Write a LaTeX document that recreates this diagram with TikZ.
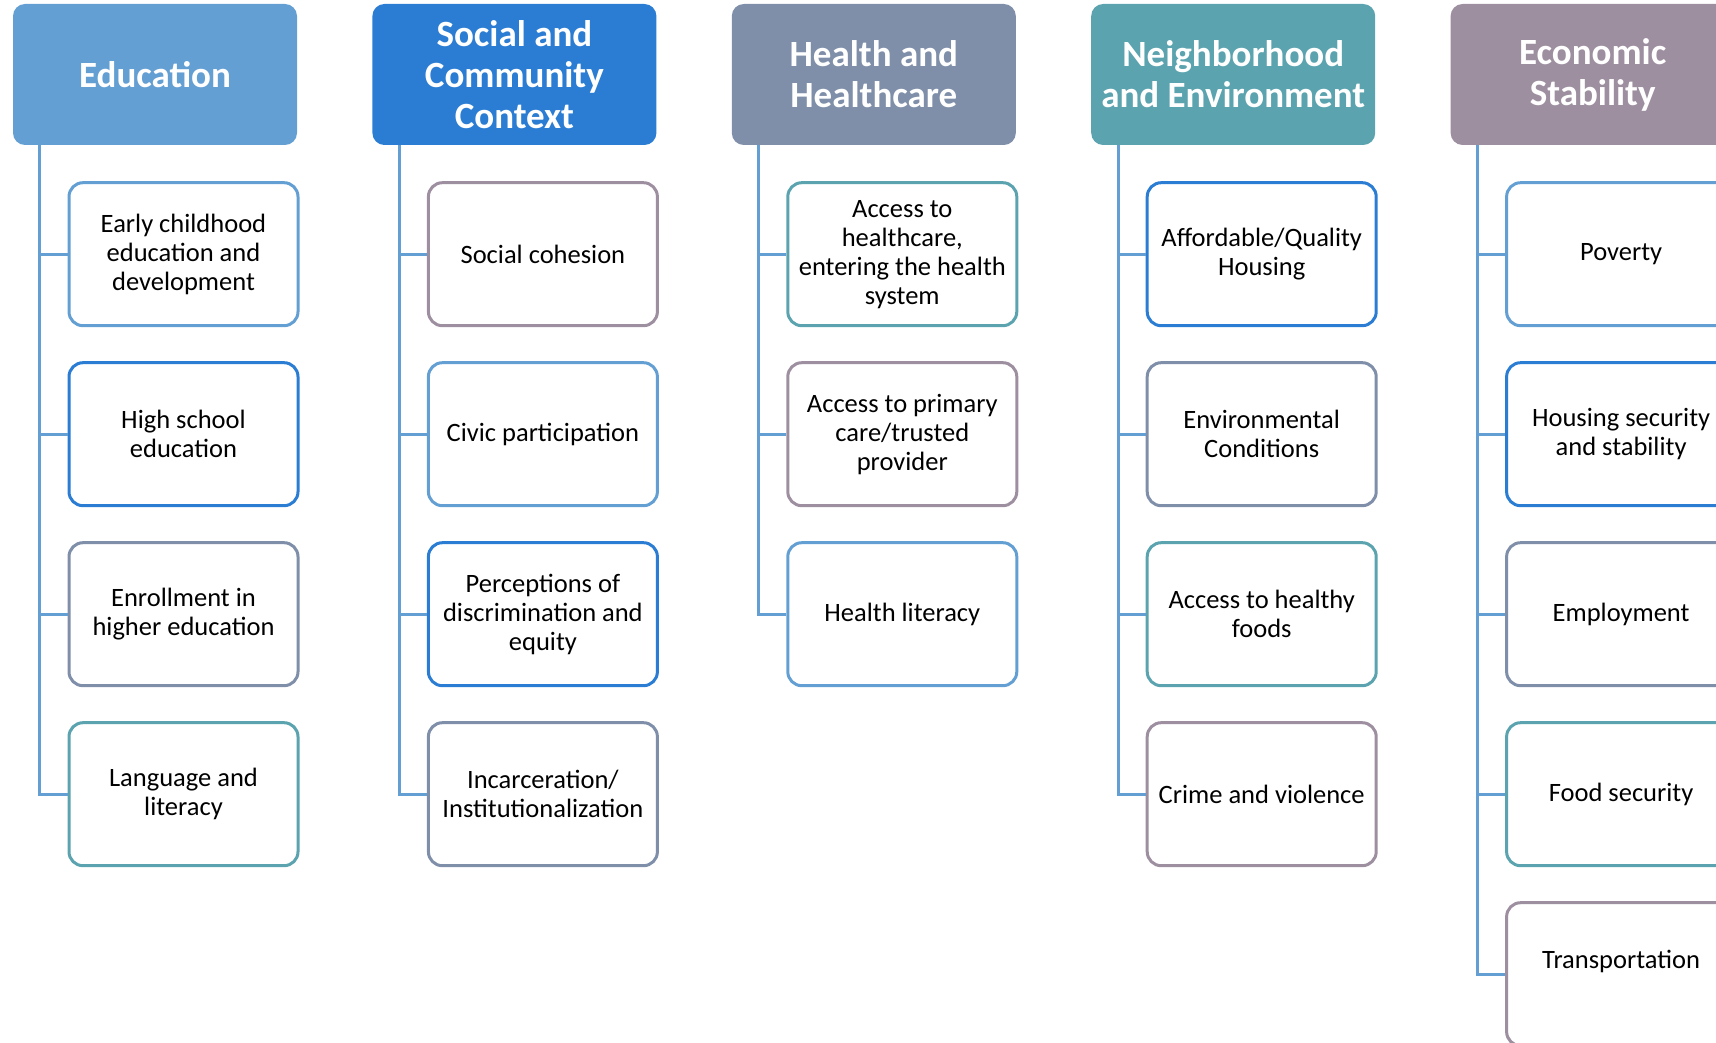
\documentclass[tikz,border=0pt]{standalone}
\usepackage{fontspec}
\setmainfont{Carlito}
\usetikzlibrary
  {
    positioning,              % place nodes relative to other nodes
    calc,
  }

\definecolor{paleblue}{RGB}{100,159,211}
\definecolor{brightblue}{RGB}{43,125,211}
\definecolor{slateblue}{RGB}{127,143,169}
\definecolor{seagreen}{RGB}{91,163,175}
\definecolor{mauve}{RGB}{158,143,160}

\begin{document}
\begin{tikzpicture}
    [
      x=1pt, y=1pt,
      node distance=34pt,
      header/.style=
        {
          rectangle,
          rounded corners=12pt,
          minimum width=284pt,
          minimum height=141pt,
          align=center,
          text=white,
          font=\fontsize{37}{41}\selectfont\bfseries,
        },
      item/.style=
        {
          rectangle,
          rounded corners=14pt,
          line width=3pt,
          fill=white,
          minimum width=229pt,
          minimum height=143pt,
          align=center,
          font=\fontsize{26.5}{29}\selectfont,
        },
      link/.style=
        {
          draw=paleblue,
          line width=3pt,
        }
    ]
    \useasboundingbox (0,0) rectangle (1716,-1043);
    \clip (0,0) rectangle (1716,-1043);

    % column heads
    \node (edu) [header, fill=paleblue] at (155,-74.5) {Education};
    \node (soc) [header, fill=brightblue, right=75pt of edu] {Social and\\Community\\Context};
    \node (hlt) [header, fill=slateblue, right=75pt of soc] {Health and\\Healthcare};
    \node (nbh) [header, fill=seagreen, right=75pt of hlt] {Neighborhood\\and Environment};
    \node (eco) [header, fill=mauve, right=75pt of nbh] {Economic\\Stability};

    % Education
    \node (edu1) [item, draw=paleblue, below=36pt of edu, xshift=28.5pt] {Early childhood\\education and\\development};
    \node (edu2) [item, draw=brightblue, below=of edu1] {High school\\education};
    \node (edu3) [item, draw=slateblue, below=of edu2] {Enrollment in\\higher education};
    \node (edu4) [item, draw=seagreen, below=of edu3] {Language and\\literacy};

    % Social and Community Context
    \node (soc1) [item, draw=mauve, below=36pt of soc, xshift=28.5pt] {Social cohesion};
    \node (soc2) [item, draw=paleblue, below=of soc1] {Civic participation};
    \node (soc3) [item, draw=brightblue, below=of soc2] {Perceptions of\\discrimination and\\equity};
    \node (soc4) [item, draw=slateblue, below=of soc3] {Incarceration/\\Institutionalization};

    % Health and Healthcare
    \node (hlt1) [item, draw=seagreen, below=36pt of hlt, xshift=28.5pt] {Access to\\healthcare,\\entering the health\\system};
    \node (hlt2) [item, draw=mauve, below=of hlt1] {Access to primary\\care/trusted\\provider};
    \node (hlt3) [item, draw=paleblue, below=of hlt2] {Health literacy};

    % Neighborhood and Environment
    \node (nbh1) [item, draw=brightblue, below=36pt of nbh, xshift=28.5pt] {Affordable/Quality\\Housing};
    \node (nbh2) [item, draw=slateblue, below=of nbh1] {Environmental\\Conditions};
    \node (nbh3) [item, draw=seagreen, below=of nbh2] {Access to healthy\\foods};
    \node (nbh4) [item, draw=mauve, below=of nbh3] {Crime and violence};

    % Economic Stability
    \node (eco1) [item, draw=paleblue, below=36pt of eco, xshift=28.5pt] {Poverty};
    \node (eco2) [item, draw=brightblue, below=of eco1] {Housing security\\and stability};
    \node (eco3) [item, draw=slateblue, below=of eco2] {Employment};
    \node (eco4) [item, draw=seagreen, below=of eco3] {Food security};
    \node (eco5) [item, draw=mauve, below=of eco4] {Transportation\\ \mbox{}};

    % trunks and branches
    \coordinate (eduT) at ($(edu.south west)+(27,0)$);
    \coordinate (socT) at ($(soc.south west)+(27,0)$);
    \coordinate (hltT) at ($(hlt.south west)+(27,0)$);
    \coordinate (nbhT) at ($(nbh.south west)+(27,0)$);
    \coordinate (ecoT) at ($(eco.south west)+(27,0)$);

    \draw [link] (eduT) |- (edu1.west) (eduT) |- (edu2.west)
                 (eduT) |- (edu3.west) (eduT) |- (edu4.west);
    \draw [link] (socT) |- (soc1.west) (socT) |- (soc2.west)
                 (socT) |- (soc3.west) (socT) |- (soc4.west);
    \draw [link] (hltT) |- (hlt1.west) (hltT) |- (hlt2.west)
                 (hltT) |- (hlt3.west);
    \draw [link] (nbhT) |- (nbh1.west) (nbhT) |- (nbh2.west)
                 (nbhT) |- (nbh3.west) (nbhT) |- (nbh4.west);
    \draw [link] (ecoT) |- (eco1.west) (ecoT) |- (eco2.west)
                 (ecoT) |- (eco3.west) (ecoT) |- (eco4.west)
                 (ecoT) |- (eco5.west);
\end{tikzpicture}
\end{document}
